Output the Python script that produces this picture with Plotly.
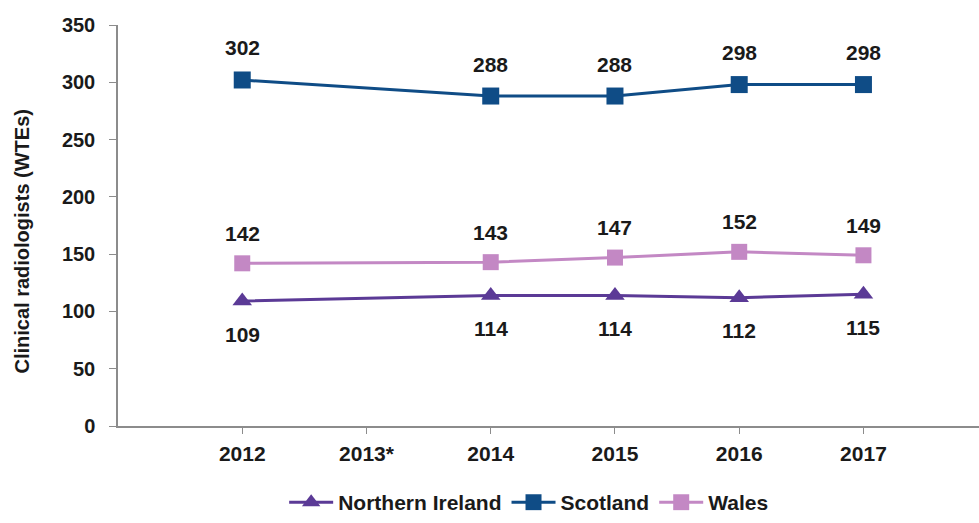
import plotly.graph_objects as go

years = ["2012", "2013*", "2014", "2015", "2016", "2017"]
northern_ireland = [109, None, 114, 114, 112, 115]
scotland = [302, None, 288, 288, 298, 298]
wales = [142, None, 143, 147, 152, 149]

series = [
    ("Northern Ireland", northern_ireland, "#5B3A96", "triangle-up", 17, -33),
    ("Scotland", scotland, "#0F4C86", "square", 17, 32),
    ("Wales", wales, "#C388C4", "square", 16, 30),
]

FONT = "Liberation Sans, Arial, sans-serif"
TEXT = "#1a1a1a"
fig = go.Figure()
for name, vals, color, symbol, size, shift in series:
    fig.add_trace(go.Scatter(
        x=years, y=vals, name=name, mode="lines+markers",
        connectgaps=True,
        line=dict(color=color, width=3),
        marker=dict(symbol=symbol, size=size, color=color),
    ))

fig.update_layout(
    width=979, height=523,
    margin=dict(l=118, r=0, t=25, b=97),
    paper_bgcolor="white", plot_bgcolor="white",
    font=dict(family=FONT, size=20, color=TEXT),
    showlegend=True,
    legend=dict(
        orientation="h", xref="container", yref="container",
        x=0.54, xanchor="center", y=-0.014, yanchor="bottom",
        font=dict(family=FONT, size=21, color=TEXT, weight="bold"),
        itemwidth=44, tracegroupgap=0,
    ),
)

# value labels above/below each point (category index positions)
for name, vals, color, symbol, size, shift in series:
    for i, v in enumerate(vals):
        if v is None:
            continue
        fig.add_annotation(
            x=i, y=v, xref="x", yref="y", text=str(v),
            showarrow=False, yshift=shift,
            font=dict(family=FONT, size=21, color=TEXT, weight="bold"),
        )

# y-axis title
fig.add_annotation(
    x=-0.1115, y=0.46, xref="paper", yref="paper",
    text="Clinical radiologists (WTEs)", textangle=-90,
    showarrow=False, xanchor="center", yanchor="middle",
    font=dict(family=FONT, size=20, color=TEXT, weight="bold"),
)

fig.update_xaxes(
    type="category", range=[-1, 5.93],
    showline=True, linecolor="#8c8c8c", linewidth=1.5,
    ticks="outside", ticklen=6, tickcolor="#8c8c8c",
    showgrid=False, zeroline=False, ticklabelstandoff=2,
    tickfont=dict(family=FONT, size=21, color=TEXT, weight="bold"),
)
fig.update_yaxes(
    range=[0, 350], dtick=50,
    showline=True, linecolor="#8c8c8c", linewidth=1.5,
    ticks="outside", ticklen=7, tickcolor="#8c8c8c",
    showgrid=False, zeroline=False, ticklabelstandoff=10,
    tickfont=dict(family=FONT, size=20, color=TEXT, weight="bold"),
)

fig.write_html("out.html")
